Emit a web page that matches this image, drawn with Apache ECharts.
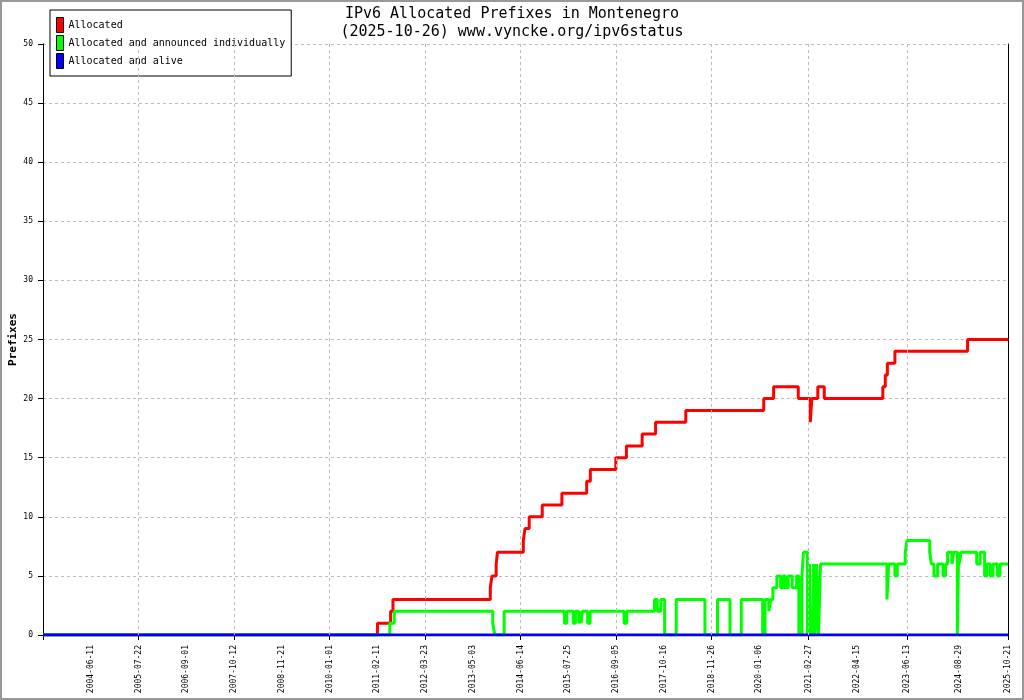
<!DOCTYPE html>
<html>
<head>
<meta charset="utf-8">
<title>IPv6 Allocated Prefixes in Montenegro</title>
<script src="https://cdn.jsdelivr.net/npm/echarts@6/dist/echarts.min.js"></script>
<style>
html, body { margin: 0; padding: 0; background: #fff; }
#chart { width: 1024px; height: 700px; }
</style>
</head>
<body>
<div id="chart"></div>
<script>
// x axis tick dates (first one is the axis start, not labelled)
const tickLabels = [
    '2003-05-01', '2004-06-11', '2005-07-22', '2006-09-01', '2007-10-12',
    '2008-11-21', '2010-01-01', '2011-02-11', '2012-03-23', '2013-05-03',
    '2014-06-14', '2015-07-25', '2016-09-05', '2017-10-16', '2018-11-26',
    '2020-01-06', '2021-02-27', '2022-04-15', '2023-06-13', '2024-08-29',
    '2025-10-21'
];

const seriesNames = ['Allocated', 'Allocated and announced individually', 'Allocated and alive'];
const seriesColors = ['#ff0000', '#00ff00', '#0000ff'];

// change points: [date, prefixes]
const allocated = [
    ['2003-05-01', 0], ['2011-02-13', 1], ['2011-06-05', 2], ['2011-06-25', 3],
    ['2013-09-30', 4], ['2013-10-14', 5], ['2013-11-19', 6], ['2013-11-30', 7],
    ['2014-07-08', 8], ['2014-07-22', 9], ['2014-08-27', 10], ['2014-12-16', 11],
    ['2015-06-01', 12], ['2015-12-29', 13], ['2016-01-29', 14], ['2016-09-02', 15],
    ['2016-12-01', 16], ['2017-04-14', 17], ['2017-08-06', 18], ['2018-04-20', 19],
    ['2020-02-12', 20], ['2020-05-06', 21], ['2020-12-02', 20], ['2021-03-14', 18],
    ['2021-03-27', 20], ['2021-05-17', 21], ['2021-07-11', 20], ['2022-11-21', 21],
    ['2022-12-12', 22], ['2022-12-30', 23], ['2023-03-04', 24], ['2024-11-11', 25]
];

const announced = [
    ['2003-05-01', 0], ['2011-05-29', 1], ['2011-07-06', 2], ['2013-10-21', 1],
    ['2013-11-07', 0], ['2014-01-26', 2],
    ['2015-06-23', 1], ['2015-07-13', 2], ['2015-09-05', 1], ['2015-09-24', 2],
    ['2015-10-22', 1], ['2015-11-06', 2], ['2015-11-12', 1], ['2015-11-22', 2],
    ['2016-01-06', 1], ['2016-01-27', 2], ['2016-11-11', 1], ['2016-12-04', 2],
    ['2017-07-28', 3], ['2017-08-20', 2], ['2017-09-19', 3], ['2017-10-22', 0],
    ['2018-01-29', 3], ['2018-09-30', 0], ['2019-01-15', 3], ['2019-05-01', 0],
    ['2019-08-05', 3], ['2020-02-03', 0], ['2020-02-23', 3], ['2020-03-26', 2],
    ['2020-04-12', 3], ['2020-04-30', 4], ['2020-06-03', 5], ['2020-07-05', 4],
    ['2020-07-25', 5], ['2020-08-14', 4], ['2020-09-07', 5], ['2020-10-11', 4],
    ['2020-11-18', 5], ['2020-12-07', 0], ['2021-01-02', 5], ['2021-01-15', 7],
    ['2021-02-18', 0], ['2021-03-08', 6], ['2021-03-20', 0], ['2021-04-11', 6],
    ['2021-04-24', 0], ['2021-05-06', 6], ['2021-05-23', 0], ['2021-06-09', 6],
    ['2022-12-26', 3], ['2023-01-10', 6], ['2023-03-04', 5], ['2023-03-24', 6],
    ['2023-05-31', 7], ['2023-06-15', 8], ['2023-12-25', 7], ['2024-01-08', 6],
    ['2024-01-30', 5], ['2024-03-01', 6], ['2024-04-16', 5], ['2024-05-07', 6],
    ['2024-05-25', 7], ['2024-07-01', 6], ['2024-07-16', 7], ['2024-08-16', 0],
    ['2024-08-27', 7], ['2024-08-31', 6], ['2024-09-17', 7], ['2025-01-28', 6],
    ['2025-02-26', 7], ['2025-04-05', 5], ['2025-04-25', 6], ['2025-05-24', 5],
    ['2025-06-16', 6], ['2025-07-24', 5], ['2025-08-13', 6]
];

const alive = [['2003-05-01', 0]];

const mono = "'DejaVu Sans Mono', 'Liberation Mono', monospace";

// local-time timestamp for a YYYY-MM-DD string
const toTime = s => {
    const [y, m, d] = s.split('-').map(Number);
    return new Date(y, m - 1, d).getTime();
};

const tickTimes = tickLabels.map(toTime);
const endTime = tickTimes[tickTimes.length - 1];
// ticks and vertical grid only on every other label
const majorTimes = tickTimes.filter((t, i) => i % 2 === 0);

// step data carried on to the right edge
const toStep = arr => {
    const pts = arr.map(item => [toTime(item[0]), item[1]]);
    pts.push([endTime, arr[arr.length - 1][1]]);
    return pts;
};

const gridDash = { color: '#bbb', type: [3, 3], width: 1 };

const chart = echarts.init(document.getElementById('chart'));

const lineSeries = [allocated, announced, alive].map((arr, i) => ({
    name: seriesNames[i],
    type: 'line',
    step: 'end',
    showSymbol: false,
    symbol: 'none',
    color: seriesColors[i],
    lineStyle: { color: seriesColors[i], width: 3 },
    data: toStep(arr),
    z: 2 + i
}));

// empty series only carrying the vertical dashed grid lines
const gridSeries = {
    name: 'vgrid',
    type: 'line',
    data: [],
    z: 1,
    silent: true,
    markLine: {
        silent: true,
        symbol: 'none',
        animation: false,
        label: { show: false },
        lineStyle: gridDash,
        emphasis: { disabled: true },
        data: majorTimes.slice(1, -1).map(t => ({ xAxis: t }))
    }
};

chart.setOption({
    animation: false,
    backgroundColor: '#fff',
    title: {
        text: 'IPv6 Allocated Prefixes in Montenegro\n(2025-10-26) www.vyncke.org/ipv6status',
        left: 'center',
        top: 5,
        padding: 0,
        textStyle: {
            fontFamily: mono,
            fontSize: 15,
            fontWeight: 'normal',
            color: '#000',
            lineHeight: 18
        }
    },
    legend: {
        data: seriesNames,
        orient: 'vertical',
        left: 50,
        top: 10,
        icon: 'rect',
        itemWidth: 7,
        itemHeight: 15,
        itemGap: 2,
        padding: [7, 6, 7, 6],
        backgroundColor: '#fff',
        borderColor: '#000',
        borderWidth: 1,
        borderRadius: 0,
        itemStyle: {
            borderColor: '#000',
            borderWidth: 1
        },
        textStyle: {
            fontFamily: mono,
            fontSize: 10,
            color: '#000'
        }
    },
    grid: {
        left: 43,
        right: 16,
        top: 44,
        bottom: 65,
        containLabel: false,
        outerBoundsMode: 'none'
    },
    xAxis: {
        type: 'value',
        min: tickTimes[0],
        max: endTime,
        axisLine: { onZero: false, lineStyle: { color: '#000', width: 1 } },
        axisTick: {
            length: 5,
            lineStyle: { color: '#000' },
            customValues: majorTimes
        },
        axisLabel: {
            customValues: tickTimes.slice(1),
            rotate: 90,
            margin: 10,
            fontFamily: mono,
            fontSize: 8,
            color: '#000',
            formatter: val => {
                const i = tickTimes.indexOf(val);
                return i >= 0 ? tickLabels[i] : '';
            }
        },
        splitLine: { show: false }
    },
    yAxis: [
        {
            type: 'value',
            min: 0,
            max: 50,
            interval: 5,
            name: 'Prefixes',
            nameLocation: 'middle',
            nameGap: 24,
            nameMoveOverlap: false,
            nameTextStyle: {
                fontFamily: mono,
                fontSize: 11,
                fontWeight: 'bold',
                color: '#000'
            },
            axisLine: { show: true, lineStyle: { color: '#000', width: 1 } },
            axisTick: { show: true, length: 5, lineStyle: { color: '#000' } },
            axisLabel: {
                margin: 10,
                fontFamily: mono,
                fontSize: 8,
                color: '#000'
            },
            splitLine: { show: true, lineStyle: gridDash }
        },
        {
            type: 'value',
            min: 0,
            max: 50,
            position: 'right',
            axisLine: { show: true, lineStyle: { color: '#000', width: 1 } },
            axisTick: { show: false },
            axisLabel: { show: false },
            splitLine: { show: false }
        }
    ],
    graphic: [
        {
            type: 'rect',
            silent: true,
            z: 100,
            shape: { x: 1, y: 1, width: 1022, height: 698 },
            style: { fill: null, stroke: '#999', lineWidth: 2 }
        }
    ],
    series: [gridSeries].concat(lineSeries)
});
</script>
</body>
</html>
